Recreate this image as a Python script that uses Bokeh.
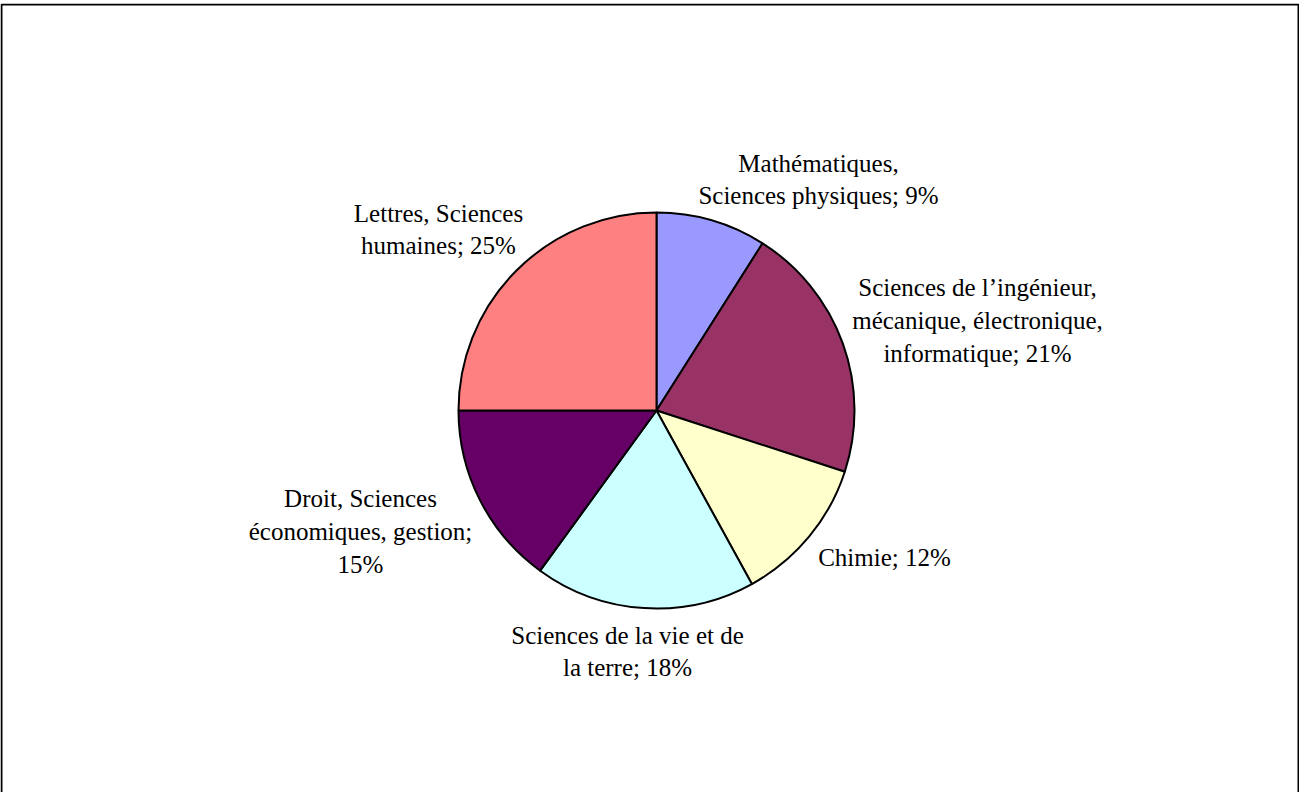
import math
from bokeh.plotting import figure
from bokeh.models import Range1d, ColumnDataSource
from bokeh.embed import file_html
from bokeh.resources import INLINE
from bokeh.core.properties import value

categories = [
    "Mathématiques, Sciences physiques",
    "Sciences de l\u2019ingénieur, mécanique, électronique, informatique",
    "Chimie",
    "Sciences de la vie et de la terre",
    "Droit, Sciences économiques, gestion",
    "Lettres, Sciences humaines",
]
percent = [9, 21, 12, 18, 15, 25]
colors = ["#9999FF", "#993366", "#FFFFCC", "#CCFFFF", "#660066", "#FF8080"]

label_text = [
    "Mathématiques,\nSciences physiques; 9%",
    "Sciences de l\u2019ingénieur,\nmécanique, électronique,\ninformatique; 21%",
    "Chimie; 12%",
    "Sciences de la vie et de\nla terre; 18%",
    "Droit, Sciences\néconomiques, gestion;\n15%",
    "Lettres, Sciences\nhumaines; 25%",
]

# layout (page pixel coordinates; y measured upward from page y=800)
W, H = 1299, 792
cx, cy, r = 664, 800 - 418, 198
label_pos = [(826, 800 - 187), (985, 800 - 328), (892, 800 - 565),
             (635, 800 - 659), (368, 800 - 539), (446, 800 - 237)]

total = sum(percent)
starts, ends = [], []
acc = 0.0
for v in percent:
    a0 = math.pi / 2 - 2 * math.pi * acc / total
    acc += v
    a1 = math.pi / 2 - 2 * math.pi * acc / total
    starts.append(a1)
    ends.append(a0)

src = ColumnDataSource(dict(start=starts, end=ends, color=colors))

p = figure(width=W, height=H, output_backend="svg", toolbar_location=None,
           x_range=Range1d(8, 8 + W), y_range=Range1d(0, 789),
           min_border_left=0, min_border_right=0, min_border_top=3, min_border_bottom=0)
p.axis.visible = False
p.grid.visible = False
p.outline_line_color = None
p.background_fill_color = "white"
p.border_fill_color = "white"

# chart-area frame (bottom edge lies below the window in the reference)
p.line(x=[9, 9, 1306, 1306], y=[-10, 788, 788, -10], line_color="#000000", line_width=2)

p.wedge(x=cx, y=cy, radius=r, start_angle="start", end_angle="end",
        fill_color="color", line_color="black", line_width=2, source=src)

lsrc = ColumnDataSource(dict(x=[q[0] for q in label_pos], y=[q[1] for q in label_pos], t=label_text))
p.text(x="x", y="y", text="t", source=lsrc, text_align="center", text_baseline="middle",
       text_font=value("Liberation Serif"), text_font_size="25px", text_color="black",
       text_line_height=1.22)

open("out.html", "w").write(file_html(p, INLINE))
